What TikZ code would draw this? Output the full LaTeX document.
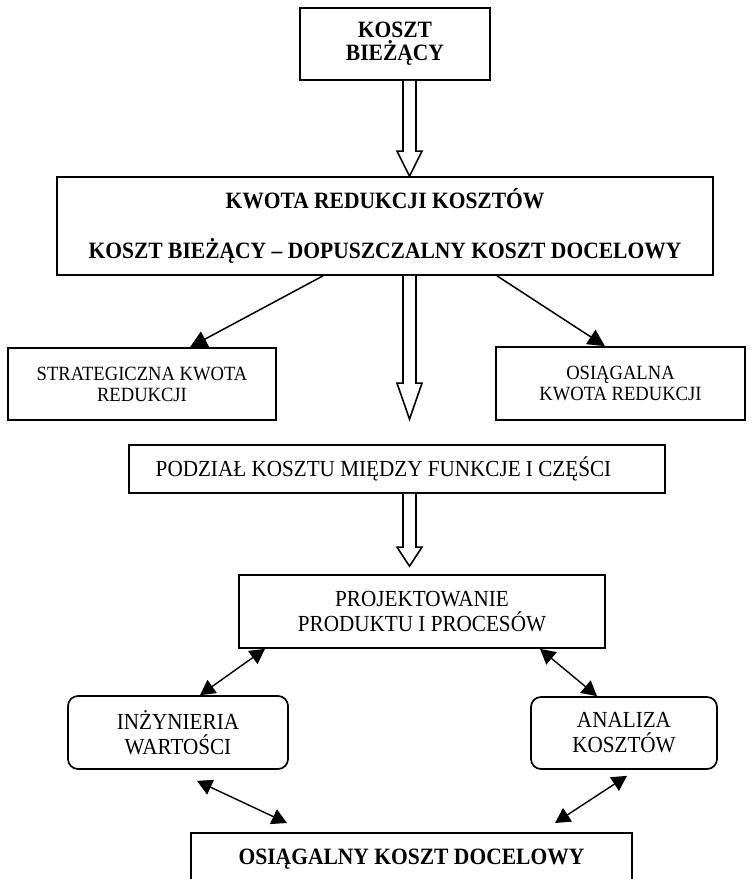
\documentclass[tikz,border=0pt]{standalone}
\usepackage{fontspec}
\setmainfont[FakeStretch=0.92]{Liberation Serif}
\usetikzlibrary{calc,arrows.meta,positioning}

% hollow block arrow: start, tip, head length
\newcommand{\hollowarrow}[3]{%
  \draw[line width=1.6pt, fill=white, line join=miter]
    let \p1=(#1), \p2=(#2) in
    (\x2-6.5pt,\y1) -- (\x2-6.5pt,\y2+#3) -- (\x2-12.5pt,\y2+#3) -- (\x2,\y2)
    -- (\x2+12.5pt,\y2+#3) -- (\x2+6.5pt,\y2+#3) -- (\x2+6.5pt,\y1);}

\begin{document}
\begin{tikzpicture}[
    x=1pt, y=-1pt,
    >=latex
  ]

  % Global Style Definitions
  \tikzset{
    box/.style={draw, line width=1.7pt, align=center, inner sep=0pt, font=\fontsize{23}{25}\selectfont},
    bold/.style={font=\fontsize{23.4}{23}\selectfont\bfseries},
    small/.style={font=\fontsize{20.2}{21}\selectfont},
    soft/.style={rounded corners=10pt},
    link/.style={-{Triangle[length=17pt,width=17pt]}, line width=1.5pt},
    twoway/.style={{Triangle[length=15pt,width=16pt]}-{Triangle[length=15pt,width=16pt]}, line width=1.4pt}
  }

  \useasboundingbox (0,0) rectangle (752,879);

  % Main column
  \node (current) [box, bold, minimum width=190pt, minimum height=72pt] at (395,44) {KOSZT\\BIEŻĄCY};
  \node (kwota)   [box, bold, minimum width=656pt, minimum height=98pt] at (385,226)
    {KWOTA REDUKCJI KOSZTÓW\\[27pt]KOSZT BIEŻĄCY – DOPUSZCZALNY KOSZT DOCELOWY};

  % Side results of the reduction
  \node (strat) [box, small, minimum width=268pt, minimum height=72pt] at (142,384) {STRATEGICZNA KWOTA\\REDUKCJI};
  \node (reach) [box, small, minimum width=249pt, minimum height=73pt] at (620.5,383.5) {OSIĄGALNA\\KWOTA REDUKCJI};

  % Split and design
  \node (split) [box, minimum width=536pt, minimum height=48pt] at (397,469)
    {PODZIAŁ KOSZTU MIĘDZY FUNKCJE I CZĘŚCI\hspace*{27pt}};
  \node (proj)  [box, minimum width=366pt, minimum height=73pt] at (422,611.5) {PROJEKTOWANIE\\PRODUKTU I PROCESÓW};

  % Supporting methods
  \node (value) [box, soft, minimum width=220pt, minimum height=73pt] at (178,732.5) {INŻYNIERIA\\WARTOŚCI};
  \node (cost)  [box, soft, minimum width=186pt, minimum height=72pt] at (624,733) {ANALIZA\\KOSZTÓW};

  % Final result (cut at the bottom edge)
  \node (target) [box, bold, anchor=north, minimum width=441pt, minimum height=52pt] at (411.5,832)
    {OSIĄGALNY KOSZT DOCELOWY};

  % Block arrows down the middle
  \coordinate (axis) at (409.5,0);
  \coordinate (splittip) at ($(split.north -| axis)+(0,-25)$);
  \coordinate (projtip)  at ($(proj.north -| axis)+(0,-8)$);
  \hollowarrow{current.south -| axis}{kwota.north -| axis}{25pt}
  \hollowarrow{kwota.south -| axis}{splittip}{36pt}
  \hollowarrow{split.south -| axis}{projtip}{19pt}

  % Branches of the reduction amount
  \draw[link] ([xshift=-62pt]kwota.south) -- ([xshift=48pt]strat.north);
  \draw[link] ([xshift=112pt]kwota.south) -- ([xshift=-15.5pt]reach.north);

  % Two-way links round the design box
  \draw[twoway] ([xshift=-157pt]proj.south) -- ([xshift=22pt]value.north);
  \draw[twoway] ([xshift=118pt]proj.south) -- ([xshift=-27pt]cost.north);
  \draw[twoway] ([xshift=19pt,yshift=-11pt]value.south) -- ([xshift=-124.5pt,yshift=9pt]target.north);
  \draw[twoway] ([xshift=3pt,yshift=-6pt]cost.south) -- ([xshift=143.5pt,yshift=9pt]target.north);

\end{tikzpicture}
\end{document}
